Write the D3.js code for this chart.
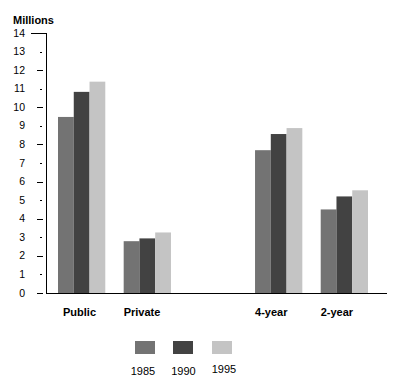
<!DOCTYPE html>
<html><head><meta charset="utf-8">
<script src="https://cdn.jsdelivr.net/npm/d3@7"></script>
<style>body{margin:0;background:#fff}svg{display:block;font-family:"Liberation Sans",Arial,sans-serif}</style>
</head><body><svg id="c" width="397" height="382"></svg>
<script>
const categories = ["Public","Private","","4-year","2-year"];
const years = ["1985","1990","1995"];
const values1985 = [9.48, 2.79, null, 7.69, 4.50];
const values1990 = [10.83, 2.94, null, 8.56, 5.20];
const values1995 = [11.38, 3.26, null, 8.88, 5.53];
const colors = ["#737373","#424242","#c4c4c4"];
const yTicks = d3.range(0,15);
const unitLabel = "Millions";

const series = [values1985, values1990, values1995];
const svg = d3.select("#c");
const x = d3.scaleBand().domain(categories).range([58,368]).paddingInner(0.28).paddingOuter(0);
const xi = d3.scaleBand().domain(years).range([0, x.bandwidth()]);
const y = d3.scaleLinear().domain([0,14]).range([293,33]);

// bars
years.forEach((yr,si)=>{
  svg.append("g").selectAll("rect").data(categories.map((c,i)=>({c,v:series[si][i]})).filter(d=>d.v!=null))
    .join("rect")
    .attr("x",d=>x(d.c)+xi(yr))
    .attr("width",xi.bandwidth())
    .attr("y",d=>y(d.v))
    .attr("height",d=>y(0)-y(d.v))
    .attr("fill",colors[si]);
});

// axes
svg.append("line").attr("x1",46.5).attr("x2",46.5).attr("y1",y(14)).attr("y2",y(0)+0.5).attr("stroke","#000");
svg.append("line").attr("x1",46).attr("x2",387).attr("y1",y(0)+0.5).attr("y2",y(0)+0.5).attr("stroke","#000");
const tg = svg.append("g");
tg.selectAll("line").data(yTicks).join("line")
  .attr("x1",d=>d===14?31:(d%2===0?37:40))
  .attr("x2",d=>d===14?46:(d%2===0?43:42))
  .attr("y1",d=>Math.round(y(d))+0.5).attr("y2",d=>Math.round(y(d))+0.5)
  .attr("stroke","#000");
tg.selectAll("text").data(yTicks).join("text")
  .attr("x",25).attr("y",d=>y(d)+(d===14?4:3.5))
  .attr("text-anchor","end").attr("font-size",10.5).text(d=>d);

svg.append("text").attr("x",13).attr("y",24).attr("font-size",11).attr("font-weight","bold").text(unitLabel);

svg.append("g").selectAll("text").data(categories.filter(c=>c))
  .join("text")
  .attr("x",d=>x(d)+(d==="Public"?5:0))
  .attr("y",316).attr("font-size",11).attr("font-weight","bold").text(d=>d);

// legend
const legX = [135,173,212];
const legLabelX = [143,183.5,224];
const lg = svg.append("g");
lg.selectAll("rect").data(years).join("rect")
  .attr("x",(d,i)=>legX[i]).attr("y",341).attr("width",20).attr("height",13)
  .attr("fill",(d,i)=>colors[i]);
lg.selectAll("text").data(years).join("text")
  .attr("x",(d,i)=>legLabelX[i]).attr("y",(d,i)=>i===2?373:374.5)
  .attr("text-anchor","middle").attr("font-size",11).text(d=>d);
</script></body></html>
